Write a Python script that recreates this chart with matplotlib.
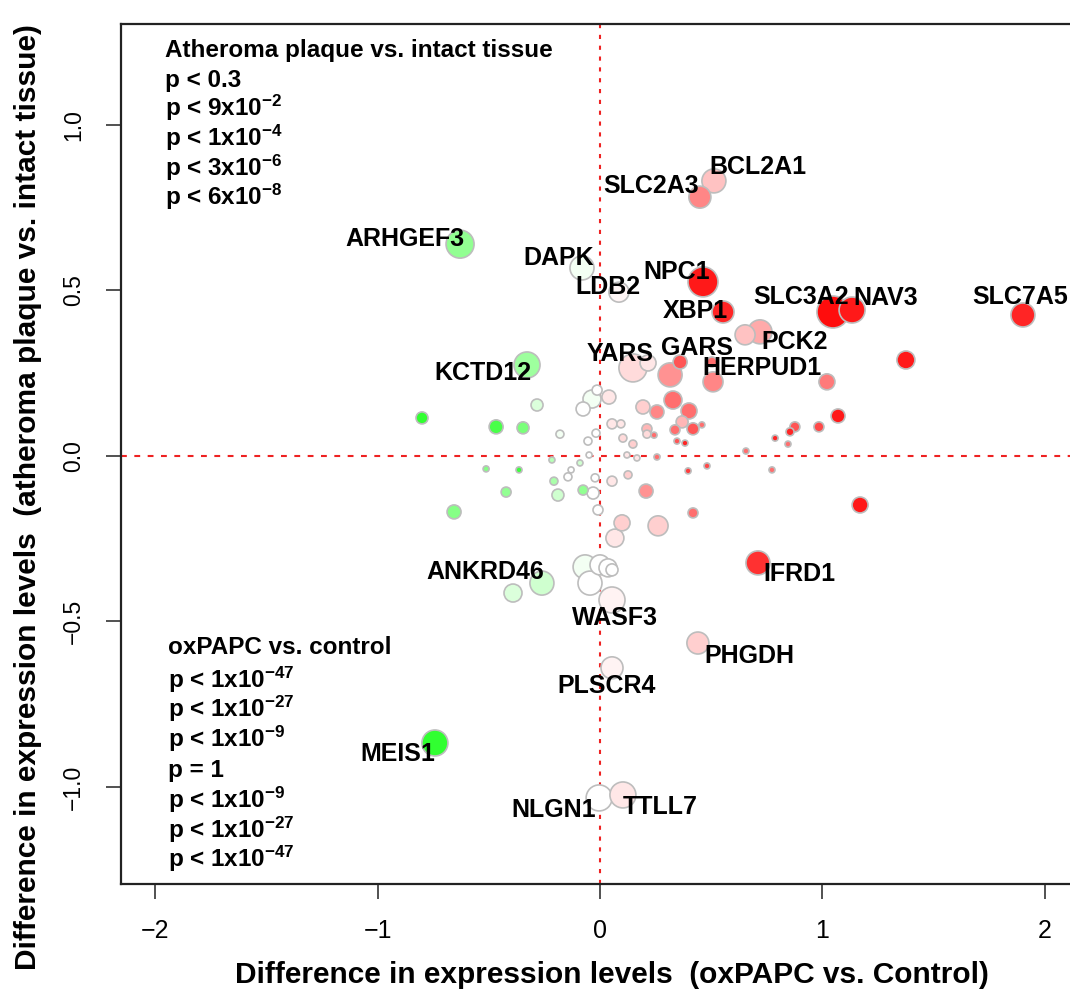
import matplotlib
matplotlib.use("Agg")
import matplotlib.pyplot as plt
import numpy as np

plt.rcParams['mathtext.fontset'] = 'custom'
plt.rcParams['mathtext.rm'] = 'Liberation Sans:bold'
plt.rcParams['mathtext.bf'] = 'Liberation Sans:bold'
plt.rcParams['mathtext.it'] = 'Liberation Sans:bold'

# ---------------- data ----------------
# x: difference oxPAPC vs control, y: difference atheroma plaque vs intact tissue
# ox_sig: signed oxPAPC significance (colour), ath_sig: atheroma significance (size)
genes = ["BCL2A1", "SLC2A3", "ARHGEF3", "DAPK", "LDB2", "NPC1", "XBP1", "SLC3A2",
         "NAV3", "SLC7A5", "PCK2", "GARS", "HERPUD1", "YARS", "KCTD12", "ANKRD46",
         "WASF3", "IFRD1", "PHGDH", "PLSCR4", "MEIS1", "NLGN1", "TTLL7"]
gene_x = [0.512, 0.449, -0.629, -0.081, 0.085, 0.463, 0.553, 1.047,
          1.133, 1.901, 0.719, 0.360, 0.508, 0.148, -0.328, -0.261,
          0.054, 0.710, 0.440, 0.054, -0.742, -0.004, 0.103]
gene_y = [0.831, 0.782, 0.640, 0.568, 0.495, 0.526, 0.435, 0.435,
          0.441, 0.426, 0.375, 0.284, 0.224, 0.266, 0.275, -0.384,
          -0.435, -0.323, -0.565, -0.640, -0.867, -1.033, -1.024]
gene_ox = [0.25, 0.50, -0.45, -0.05, 0.04, 0.95, 0.90, 1.00,
           0.95, 0.90, 0.35, 0.70, 0.50, 0.15, -0.40, -0.20,
           0.05, 0.85, 0.20, 0.05, -0.85, 0.00, 0.10]
gene_ath = [12, 11, 14, 12, 10, 15, 11, 16,
            13, 12, 12, 7, 10, 14, 13, 12,
            13, 12, 11, 11, 13, 13, 13]

other_x = [0.652, 0.503, 1.020, 0.216, 0.315, -0.391, -0.800, -0.467, -0.346, -0.283,
           -0.180, -0.013, -0.036, -0.076, 0.040, -0.054, -0.018, -0.049, -0.216, -0.090,
           -0.130, -0.144, -0.512, -0.364, -0.207, -0.189, -0.076, -0.022, -0.031, -0.009,
           -0.422, -0.656, 0.054, 0.126, 0.207, 0.099, 0.261, 0.067, 0.418, 0.396,
           0.054, 0.094, 0.103, 0.148, 0.121, 0.166, 0.256, 0.211, 0.211, 0.243,
           0.328, 0.193, 0.256, 0.400, 0.369, 0.337, 0.418, 0.346, 0.382, 0.458,
           1.375, 1.070, 0.984, 0.876, 0.854, 0.787, 0.845, 0.656, 0.481, 0.773,
           1.169, -0.067, 0.000, 0.036, 0.054, -0.045]
other_y = [0.366, 0.284, 0.224, 0.281, 0.245, -0.414, 0.115, 0.088, 0.085, 0.154,
           0.066, 0.199, 0.172, 0.142, 0.178, 0.045, 0.069, 0.003, -0.012, -0.021,
           -0.042, -0.063, -0.039, -0.042, -0.076, -0.118, -0.103, -0.066, -0.112, -0.163,
           -0.109, -0.169, -0.076, -0.057, -0.106, -0.202, -0.211, -0.248, -0.172, -0.045,
           0.097, 0.097, 0.054, 0.036, 0.003, -0.006, -0.003, 0.082, 0.066, 0.063,
           0.169, 0.148, 0.133, 0.136, 0.103, 0.079, 0.082, 0.045, 0.039, 0.094,
           0.290, 0.121, 0.088, 0.088, 0.073, 0.054, 0.036, 0.015, -0.030, -0.042,
           -0.148, -0.335, -0.329, -0.338, -0.344, -0.384]
other_ox = [0.25, 0.60, 0.55, 0.10, 0.45, -0.15, -0.85, -0.75, -0.55, -0.15,
            -0.05, 0.00, -0.05, 0.00, 0.10, 0.00, 0.00, 0.00, -0.30, -0.20,
            0.00, 0.00, -0.50, -0.80, -0.35, -0.20, -0.45, 0.00, 0.00, 0.00,
            -0.45, -0.50, 0.10, 0.20, 0.45, 0.20, 0.20, 0.10, 0.60, 0.80,
            0.10, 0.10, 0.15, 0.20, 0.10, 0.10, 0.60, 0.30, 0.15, 0.60,
            0.60, 0.20, 0.50, 0.60, 0.30, 0.60, 0.70, 0.70, 0.90, 0.60,
            0.95, 0.95, 0.75, 0.70, 0.90, 0.90, 0.60, 0.60, 0.75, 0.60,
            0.95, -0.05, 0.00, 0.00, 0.00, 0.00]
other_ath = [10, 5, 8, 8, 12, 9, 6, 7, 6, 6,
             4, 5, 9, 7, 7, 4, 4, 3, 3, 3,
             3, 4, 3, 3, 4, 6, 5, 4, 6, 5,
             5, 7, 5, 4, 7, 8, 10, 9, 5, 3,
             5, 4, 4, 4, 3, 3, 3, 5, 4, 3,
             9, 7, 7, 8, 6, 5, 6, 3, 3, 3,
             9, 7, 5, 5, 4, 3, 3, 3, 3, 3,
             8, 12, 10, 9, 6, 12]

legend_ath_title = "Atheroma plaque vs. intact tissue"
legend_ath = ["p < 0.3", r"p < 9x10$^{-2}$", r"p < 1x10$^{-4}$",
              r"p < 3x10$^{-6}$", r"p < 6x10$^{-8}$"]
legend_ox_title = "oxPAPC vs. control"
legend_ox = [r"p < 1x10$^{-47}$", r"p < 1x10$^{-27}$", r"p < 1x10$^{-9}$", "p = 1",
             r"p < 1x10$^{-9}$", r"p < 1x10$^{-27}$", r"p < 1x10$^{-47}$"]

x_ticks = [-2, -1, 0, 1, 2]
y_ticks = [-1.0, -0.5, 0.0, 0.5, 1.0]
y_tick_labels = ["\u22121.0", "\u22120.5", "0.0", "0.5", "1.0"]

# label offsets (points) relative to each gene's marker
label_off = {"BCL2A1": (32, 10), "SLC2A3": (-35, 8), "ARHGEF3": (-40, 4), "DAPK": (-17, 7),
             "LDB2": (-8, 4), "NPC1": (-19, 7), "XBP1": (-20, 1), "SLC3A2": (-23, 11),
             "NAV3": (24, 9), "SLC7A5": (-2, 13), "PCK2": (25, -7), "GARS": (12, 10),
             "HERPUD1": (35, 10), "YARS": (-9, 10), "KCTD12": (-32, -6), "ANKRD46": (-41, 8),
             "WASF3": (2, -13), "IFRD1": (30, -8), "PHGDH": (37, -9), "PLSCR4": (-4, -13),
             "MEIS1": (-27, -8), "NLGN1": (-33, -9), "TTLL7": (27, -9)}


def colour(c):
    a = min(abs(c), 1.0)
    if c >= 0:
        return (1.0, 1.0 - 0.95 * a, 1.0 - 0.95 * a)
    return (1.0 - 0.95 * a, 1.0, 1.0 - 0.95 * a)


def size(r_px):
    return (2 * r_px * 0.72) ** 2


W, H = 1070, 994
fig = plt.figure(figsize=(W / 100, H / 100), dpi=100)
left, right, top, bottom = 121, 1077, 24, 884
ax = fig.add_axes([left / W, 1 - bottom / H, (right - left) / W, (bottom - top) / H])
ax.set_xlim(-2.153, 2.144)
ax.set_ylim(-1.293, 1.305)

ax.axvline(0, color='#ee2222', lw=1.5, ls=(0, (2.0, 3.2)), zorder=1)
ax.axhline(0, color='#ee2222', lw=1.5, ls=(0, (2.8, 3.6)), zorder=1)

all_x = list(other_x) + list(gene_x)
all_y = list(other_y) + list(gene_y)
all_c = list(other_ox) + list(gene_ox)
all_r = list(other_ath) + list(gene_ath)
order = np.argsort(-np.array(all_r), kind='stable')
ax.scatter(np.array(all_x)[order], np.array(all_y)[order],
           s=[size(all_r[i]) for i in order],
           c=[colour(all_c[i]) for i in order],
           edgecolors='#bdbdbd', linewidths=1.2, zorder=3)

for g, gx, gy in zip(genes, gene_x, gene_y):
    dx, dy = label_off[g]
    ax.annotate(g, (gx, gy), xytext=(dx, dy), textcoords='offset points',
                ha='center', va='center', fontsize=18, fontweight='bold',
                family=['Liberation Sans', 'DejaVu Sans'], zorder=5,
                annotation_clip=False)

narrow = ['Liberation Sans', 'DejaVu Sans']
ax.set_xticks(x_ticks)
ax.set_xticklabels([str(t).replace('-', '\u2212') for t in x_ticks],
                   fontsize=18, family=narrow)
ax.set_yticks(y_ticks)
ax.set_yticklabels(y_tick_labels, fontsize=16.5, rotation=90, va='center',
                   family=['Liberation Sans', 'DejaVu Sans'])
ax.tick_params(axis='x', length=11, width=1.1, pad=14, color='#222222')
ax.tick_params(axis='y', length=11, width=1.1, pad=15, color='#222222')
for sp in ax.spines.values():
    sp.set_linewidth(1.6)
    sp.set_color('#222222')

fig.text(612 / W, 1 - 975 / H, "Difference in expression levels  (oxPAPC vs. Control)",
         ha='center', va='center', fontsize=21.5, fontweight='bold', family=narrow)
fig.text(28 / W, 1 - 497 / H,
         "Difference in expression levels  (atheroma plaque vs. intact tissue)",
         ha='center', va='center', rotation=90, fontsize=21.5, fontweight='bold',
         family=['Liberation Sans', 'DejaVu Sans'])

lf = dict(fontsize=17.5, fontweight='bold', family=['Liberation Sans', 'DejaVu Sans'],
          ha='left', va='center')
top_rows = [50, 80, 108, 138, 168, 197]
for t, yy in zip([legend_ath_title] + legend_ath, top_rows):
    fig.text(165 / W, 1 - yy / H, t, **lf)
bot_rows = [648, 680, 709, 739, 770, 800, 830, 859]
for t, yy in zip([legend_ox_title] + legend_ox, bot_rows):
    fig.text(168 / W, 1 - yy / H, t, **lf)

fig.savefig("out.png", dpi=100)
